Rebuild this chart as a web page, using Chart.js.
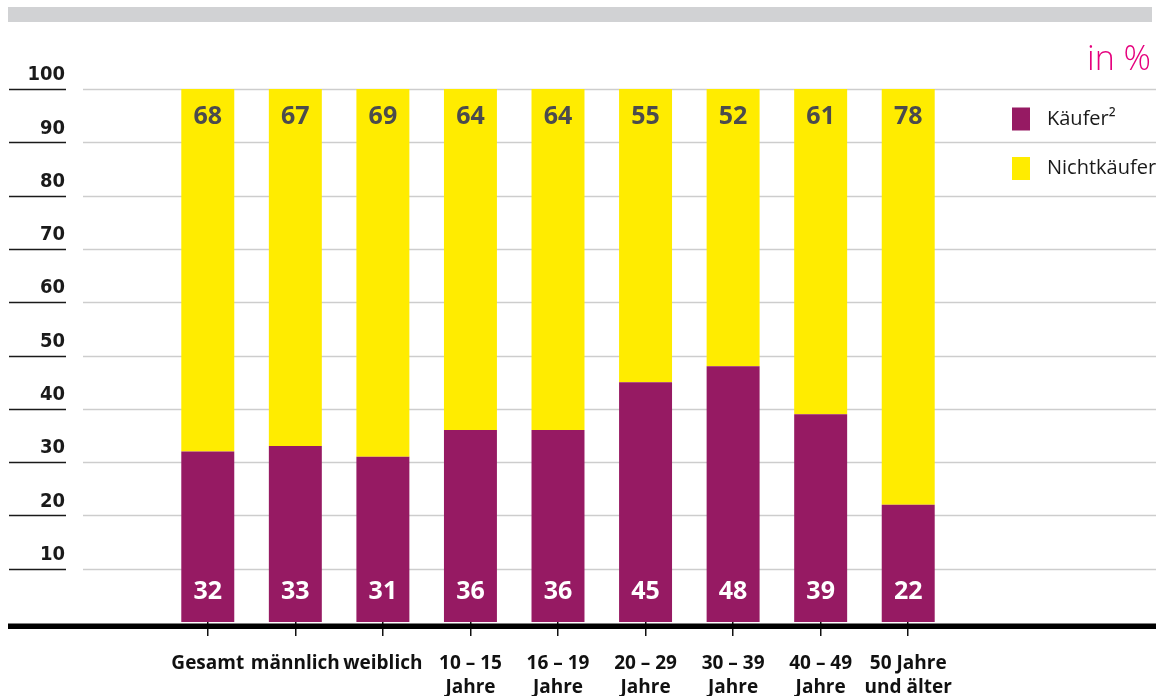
<!DOCTYPE html>
<html>
<head>
<meta charset="utf-8">
<script src="https://cdn.jsdelivr.net/npm/chart.js@4"></script>
<style>
  html, body { margin: 0; padding: 0; background: #fff; }
  #wrap { position: relative; width: 1156px; height: 696px; }
</style>
</head>
<body>
<div id="wrap"><canvas id="chart"></canvas></div>
<script>
// Daten
const categories = [
  "Gesamt", "männlich", "weiblich",
  ["10 – 15", "Jahre"], ["16 – 19", "Jahre"], ["20 – 29", "Jahre"],
  ["30 – 39", "Jahre"], ["40 – 49", "Jahre"], ["50 Jahre", "und älter"]
];
const kaeufer = [32, 33, 31, 36, 36, 45, 48, 39, 22];
const nichtkaeufer = [68, 67, 69, 64, 64, 55, 52, 61, 78];
const seriesLabels = ["Käufer²", "Nichtkäufer"];
const unitLabel = "in %";

const PURPLE = "#961a63";
const YELLOW = "#ffec00";

// Gitterlinien, Beschriftungen, Legende
const decor = {
  id: "decor",
  beforeDatasetsDraw(chart) {
    const { ctx, scales: { y } } = chart;
    ctx.save();
    // grauer Balken oben
    ctx.fillStyle = "#d1d2d4";
    ctx.fillRect(8, 7, 1144, 15);
    y.ticks.forEach(t => {
      if (t.value === 0) return;
      const py = Math.round(y.getPixelForValue(t.value)) + 0.5;
      ctx.beginPath();
      ctx.strokeStyle = "#cdcdcd";
      ctx.lineWidth = 1.3;
      ctx.moveTo(83, py);
      ctx.lineTo(1156, py);
      ctx.stroke();
      ctx.beginPath();
      ctx.strokeStyle = "#1a1a1a";
      ctx.lineWidth = 1.5;
      ctx.moveTo(9, py);
      ctx.lineTo(66, py);
      ctx.stroke();
    });
    ctx.restore();
  },
  afterDatasetsDraw(chart) {
    const { ctx } = chart;
    ctx.save();
    ctx.font = "bold 25px 'Open Sans'";
    ctx.textAlign = "center";
    ctx.textBaseline = "middle";
    chart.data.datasets.forEach((ds, di) => {
      chart.getDatasetMeta(di).data.forEach((bar, i) => {
        if (di === 0) {
          ctx.fillStyle = "#ffffff";
          ctx.fillText(ds.data[i], bar.x, bar.base - 30);
        } else {
          ctx.fillStyle = "#4b4b4d";
          ctx.fillText(ds.data[i], bar.x, bar.y + 28);
        }
      });
    });
    ctx.restore();
  },
  afterDraw(chart) {
    const { ctx } = chart;
    ctx.save();
    // dicke Grundlinie
    ctx.fillStyle = "#000";
    ctx.fillRect(8, 623.5, 1148, 5.5);
    // Einheit
    ctx.fillStyle = "#e5007d";
    ctx.font = "300 34px 'Open Sans'";
    ctx.textAlign = "right";
    ctx.textBaseline = "alphabetic";
    ctx.fillText(unitLabel, 1151, 70);
    // Legende
    ctx.font = "20px 'Open Sans'";
    ctx.textAlign = "left";
    ctx.textBaseline = "middle";
    const legendY = [119, 168.5];
    chart.data.datasets.forEach((ds, di) => {
      ctx.fillStyle = ds.backgroundColor;
      ctx.fillRect(1012, legendY[di] - 11.5, 18, 23);
      ctx.fillStyle = "#1a1a1a";
      ctx.fillText(ds.label, 1047, legendY[di]);
    });
    ctx.restore();
  }
};

const config = {
  type: "bar",
  data: {
    labels: categories,
    datasets: [
      { label: seriesLabels[0], data: kaeufer, backgroundColor: PURPLE },
      { label: seriesLabels[1], data: nichtkaeufer, backgroundColor: YELLOW }
    ]
  },
  options: {
    responsive: true,
    maintainAspectRatio: false,
    animation: false,
    layout: { padding: { top: 89, left: 8, right: 204, bottom: 0 } },
    datasets: { bar: { barPercentage: 0.605, categoryPercentage: 1 } },
    scales: {
      x: {
        stacked: true,
        afterFit: s => { s.height = 74; s.paddingLeft = 0; s.paddingRight = 0; },
        border: { display: false },
        grid: {
          display: true, drawOnChartArea: false, drawTicks: true,
          tickLength: 14, color: "#111", lineWidth: 1.5, offset: false
        },
        ticks: {
          autoSkip: false, maxRotation: 0, padding: 16,
          color: "#111",
          font: { family: "'Open Sans'", weight: "bold", size: 19, lineHeight: 1.26 }
        }
      },
      y: {
        stacked: true,
        min: 0, max: 100,
        afterFit: s => { s.width = 156; s.paddingTop = 0; s.paddingBottom = 0; },
        border: { display: false },
        grid: { display: false, drawTicks: false },
        ticks: {
          stepSize: 10, padding: 99, labelOffset: -14,
          color: "#1a1a1a",
          font: { family: "'Liberation Sans Narrow', 'DejaVu Sans Condensed'", weight: "bold", size: 20 },
          callback: v => (v === 0 ? "" : v)
        }
      }
    },
    plugins: {
      legend: { display: false },
      tooltip: { enabled: false }
    }
  },
  plugins: [decor]
};

new Chart(document.getElementById("chart").getContext("2d"), config);
</script>
</body>
</html>
